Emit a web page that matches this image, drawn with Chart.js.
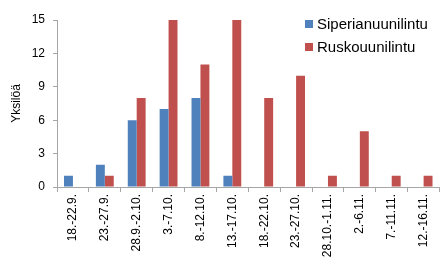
<!DOCTYPE html>
<html>
<head>
<meta charset="utf-8">
<script src="https://cdn.jsdelivr.net/npm/chart.js@4/dist/chart.umd.min.js"></script>
<style>
  html, body { margin: 0; padding: 0; background: #fff; }
  #wrap { width: 440px; height: 260px; }
</style>
</head>
<body>
<div id="wrap"><canvas id="chart"></canvas></div>
<script>
// Data
const periods = ["18.-22.9.", "23.-27.9.", "28.9.-2.10.", "3.-7.10.", "8.-12.10.", "13.-17.10.",
                 "18.-22.10.", "23.-27.10.", "28.10.-1.11.", "2.-6.11.", "7.-11.11.", "12.-16.11."];
const siperian = [1, 2, 6, 7, 8, 1, 0, 0, 0, 0, 0, 0];
const rusko = [0, 1, 8, 15, 11, 15, 8, 10, 1, 5, 1, 1];
const yTicks = [0, 3, 6, 9, 12, 15];
const seriesNames = ["Siperianuunilintu", "Ruskouunilintu"];

const FONT = "'Liberation Sans', Arial, sans-serif";

// Legend drawn inside the plot, top right
const insideLegend = {
    id: 'insideLegend',
    afterDraw(chart) {
        const ctx = chart.ctx;
        ctx.save();
        ctx.font = "15px " + FONT;
        ctx.textBaseline = 'middle';
        chart.data.datasets.forEach((ds, i) => {
            const y = 24 + i * 23;
            ctx.fillStyle = ds.backgroundColor;
            ctx.fillRect(305, y - 4, 8, 8);
            ctx.fillStyle = '#000';
            ctx.fillText(ds.label, 317, y + 1);
        });
        ctx.restore();
    }
};

new Chart(document.getElementById('chart'), {
    type: 'bar',
    data: {
        labels: periods,
        datasets: [
            { label: seriesNames[0], data: siperian, backgroundColor: '#4F81BD' },
            { label: seriesNames[1], data: rusko, backgroundColor: '#C0504D' }
        ]
    },
    options: {
        responsive: true,
        maintainAspectRatio: false,
        animation: false,
        layout: { padding: { top: 20, right: 0, left: 6, bottom: 0 } },
        datasets: { bar: { categoryPercentage: 0.56, barPercentage: 1.0 } },
        plugins: { legend: { display: false }, tooltip: { enabled: false } },
        scales: {
            x: {
                grid: { drawOnChartArea: false, offset: true, tickLength: 5, color: '#a6a6a6' },
                border: { color: '#a6a6a6' },
                ticks: { maxRotation: 90, minRotation: 90, color: '#000', font: { family: FONT, size: 12 }, padding: 2 },
                afterFit(scale) { scale.height = 73; }
            },
            y: {
                min: 0, max: 15,
                afterBuildTicks(scale) { scale.ticks = yTicks.map(v => ({ value: v })); },
                grid: { drawOnChartArea: false, tickLength: 4, color: '#a6a6a6' },
                border: { color: '#a6a6a6' },
                ticks: { color: '#000', font: { family: FONT, size: 12 }, padding: 8 },
                title: { display: true, text: 'Yksilöä', color: '#000', font: { family: FONT, size: 12 }, padding: 3 },
                afterFit(scale) { scale.width = 51; }
            }
        }
    },
    plugins: [insideLegend]
});
</script>
</body>
</html>
